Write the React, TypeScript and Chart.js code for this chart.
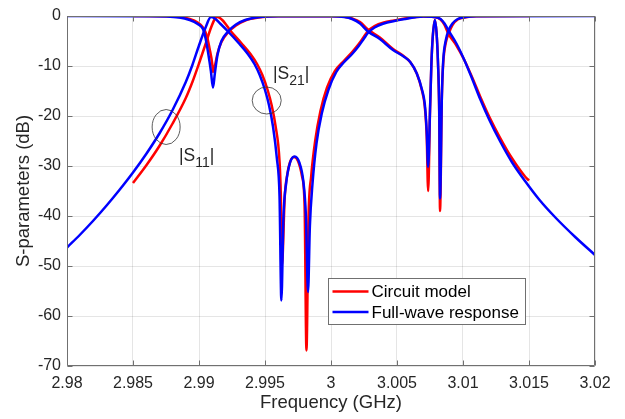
import React, { useEffect, useRef } from "react";
import { Chart, registerables } from "chart.js";

Chart.register(...registerables);

const xTicks = [2.98, 2.985, 2.99, 2.995, 3, 3.005, 3.01, 3.015, 3.02];
const yTicks = [0, -10, -20, -30, -40, -50, -60, -70];

// Full-wave response, transmission-like curve
const freqFullA = [
  2.98, 2.981, 2.982, 2.983, 2.984, 2.985, 2.986, 2.987, 2.988, 2.989, 2.9895, 2.99, 2.9905, 2.9909,
  2.9912, 2.9916, 2.9922, 2.993, 2.9937, 2.9942, 2.9946, 2.995, 2.9953, 2.9956, 2.9959, 2.9961, 2.99624,
  2.9964, 2.9966, 2.9969, 2.99725, 2.9976, 2.9979, 2.9981, 2.99826, 2.9984, 2.9986, 2.9989, 2.9993,
  2.9998, 3.0004, 3.001, 3.0016, 3.0021, 3.0025, 3.0028, 3.0033, 3.004, 3.0048, 3.0056, 3.0064, 3.007,
  3.0078, 3.0083, 3.0086, 3.0089, 3.0095, 3.0101, 3.0107, 3.0113, 3.012, 3.0128, 3.0137, 3.0147, 3.0158,
  3.017, 3.0185, 3.02,
];
const fullA = [
  -46.3, -43.7, -40.9, -37.9, -34.7, -31.3, -27.6, -23.5, -18.8, -13.2, -9.8, -5.9, -2.3, -0.2,
  -0.5, -1.5, -3.1, -5.4, -7.6, -9.6, -11.8, -14.8, -17.8, -22.0, -28.5, -36.0, -56.9,
  -40.0, -33.5, -29.3, -28.1, -29.3, -33.0, -40.0, -55.2, -42.0, -33.5, -25.5, -19.5,
  -14.8, -11.2, -9.2, -7.6, -6.0, -4.5, -3.4, -2.3, -1.5, -1.0, -0.6, -0.25, -0.1,
  -0.2, -0.6, -1.5, -2.9, -5.5, -8.8, -12.6, -16.6, -20.8, -25.0, -29.2, -33.0, -36.8,
  -40.3, -44.2, -47.8,
];

// Full-wave response, reflection-like curve
const freqFullB = [
  2.98, 2.986, 2.9885, 2.9893, 2.9899, 2.9903, 2.9905, 2.9907, 2.9909, 2.99106, 2.9912, 2.9914, 2.9917,
  2.9922, 2.9928, 2.9935, 2.9945, 2.996, 3.0, 3.001, 3.0016, 3.0022, 3.0028, 3.0037, 3.0047, 3.0055,
  3.006, 3.0065, 3.0069, 3.0071, 3.00725, 3.00736, 3.0075, 3.0076, 3.0077, 3.00787, 3.008, 3.0081,
  3.0082, 3.00826, 3.0084, 3.0085, 3.0087, 3.0089, 3.0092, 3.0096, 3.0102, 3.011, 3.02,
];
const fullB = [
  0, -0.05, -0.3, -0.8, -1.6, -2.6, -4.5, -7.5, -11.0, -14.3, -11.5, -7.8, -5.0,
  -3.1, -1.7, -0.8, -0.25, -0.05, -0.05, -0.2, -0.6, -1.5, -3.1, -4.6, -6.8, -8.1,
  -9.2, -11.5, -14.8, -17.5, -23.0, -30.2, -19.0, -10.0, -4.5, -0.8, -3.5, -9.0,
  -19.0, -36.5, -16.0, -9.0, -4.8, -2.9, -1.5, -0.6, -0.2, -0.05, 0,
];

// Circuit model, transmission-like curve
const freqCircA = [
  2.985, 2.986, 2.987, 2.988, 2.989, 2.9895, 2.99, 2.9905, 2.9909, 2.9912, 2.9914, 2.9918, 2.9924,
  2.9932, 2.9939, 2.9944, 2.9948, 2.9952, 2.9955, 2.9958, 2.9961, 2.9962, 2.99628, 2.9965, 2.9967,
  2.9969, 2.9972, 2.9975, 2.9978, 2.998, 2.99814, 2.9983, 2.9985, 2.9988, 2.9992, 2.9997, 3.0003,
  3.001, 3.0016, 3.0021, 3.0025, 3.0028, 3.0033, 3.004, 3.0048, 3.0056, 3.0064, 3.007, 3.0078, 3.0083,
  3.0086, 3.0089, 3.0095, 3.0101, 3.0107, 3.0113, 3.012, 3.0128, 3.0137, 3.0147, 3.015,
];
const circA = [
  -33.4, -29.9, -26.0, -21.5, -16.4, -13.2, -9.5, -5.6, -2.4, -0.6, -0.2, -0.9, -3.0,
  -5.4, -7.6, -9.6, -11.8, -14.8, -17.8, -22.0, -29.0, -36.0, -50.0, -36.0, -31.5,
  -29.2, -28.2, -29.0, -32.0, -38.0, -66.9, -40.0, -32.0, -25.0, -19.0, -14.3, -11.0,
  -8.9, -7.2, -5.6, -4.1, -3.0, -2.0, -1.3, -0.9, -0.5, -0.2, -0.1, -0.2, -0.7,
  -1.8, -3.6, -5.9, -8.8, -12.3, -16.1, -20.2, -24.3, -28.4, -32.1, -32.9,
];

// Circuit model, reflection-like curve
const freqCircB = [
  2.985, 2.9885, 2.9893, 2.9899, 2.9903, 2.9906, 2.9908, 2.991, 2.99106, 2.9912, 2.9914, 2.9917, 2.9922,
  2.9928, 2.9935, 2.9945, 2.996, 3.0, 3.001, 3.0016, 3.0022, 3.0028, 3.0037, 3.0047, 3.0055, 3.006,
  3.0065, 3.0069, 3.0071, 3.00725, 3.00736, 3.0075, 3.0076, 3.0077, 3.00787, 3.008, 3.0081, 3.0082,
  3.00826, 3.0084, 3.0085, 3.0087, 3.0089, 3.0092, 3.0096, 3.0102, 3.011, 3.015,
];
const circB = [
  0, -0.2, -0.6, -1.3, -2.3, -4.0, -6.5, -9.5, -11.2, -10.0, -7.5, -5.2, -3.3,
  -1.9, -0.9, -0.3, -0.05, -0.05, -0.15, -0.5, -1.2, -2.7, -4.3, -6.6, -8.0, -9.2,
  -11.5, -15.0, -18.0, -24.0, -35.0, -19.0, -10.0, -4.5, -0.8, -3.5, -9.0, -20.0,
  -39.0, -16.0, -9.5, -5.3, -3.6, -1.8, -0.7, -0.25, -0.05, 0,
];

const seriesNames = ["Circuit model", "Full-wave response"];
const seriesColors = ["#ff0000", "#0000ff"];

// annotation anchors (data coordinates)
const noteS11 = { cx: 2.98751, cy: -22.2, tx: 2.98848, ty: -28.9, sub: "11" };
const noteS21 = { cx: 2.99513, cy: -16.9, tx: 2.99561, ty: -12.5, sub: "21" };

const FONT = "'Liberation Sans', Arial, Helvetica, sans-serif";
const TEXT = "#262626";

const zip = (xs: number[], ys: number[]) => xs.map((x, i) => ({ x, y: ys[i] }));

const decorPlugin = {
  id: "decor",
  afterDraw(chart: any) {
    const { ctx, chartArea: a, scales } = chart;
    const x = scales.x;
    const y = scales.y;
    ctx.save();
    // box and inward ticks
    ctx.strokeStyle = "#707070";
    ctx.lineWidth = 1;
    const L = Math.round(a.left) + 0.5;
    const R = Math.round(a.right) - 0.5;
    const T = Math.round(a.top) + 0.5;
    const B = Math.round(a.bottom) - 0.5;
    ctx.beginPath();
    ctx.rect(L, T, R - L, B - T);
    xTicks.forEach((v) => {
      const px = Math.round(x.getPixelForValue(v)) + 0.5;
      ctx.moveTo(px, B);
      ctx.lineTo(px, B - 5);
      ctx.moveTo(px, T);
      ctx.lineTo(px, T + 5);
    });
    yTicks.forEach((v) => {
      const py = Math.round(y.getPixelForValue(v)) + 0.5;
      ctx.moveTo(L, py);
      ctx.lineTo(L + 5, py);
      ctx.moveTo(R, py);
      ctx.lineTo(R - 5, py);
    });
    ctx.stroke();

    // annotations
    const drawNote = (n: any, rx: number, ry: number) => {
      const cx = x.getPixelForValue(n.cx);
      const cy = y.getPixelForValue(n.cy);
      ctx.beginPath();
      ctx.strokeStyle = "#333333";
      ctx.lineWidth = 0.8;
      ctx.ellipse(cx, cy, rx, ry, 0, 0, Math.PI * 2);
      ctx.stroke();
      const tx = x.getPixelForValue(n.tx);
      const ty = y.getPixelForValue(n.ty);
      ctx.fillStyle = TEXT;
      ctx.textBaseline = "alphabetic";
      ctx.textAlign = "left";
      ctx.font = `17.5px ${FONT}`;
      let cur = tx;
      ctx.fillText("|S", cur, ty);
      cur += ctx.measureText("|S").width;
      ctx.font = `14px ${FONT}`;
      ctx.fillText(n.sub, cur, ty + 6);
      cur += ctx.measureText(n.sub).width;
      ctx.font = `17.5px ${FONT}`;
      ctx.fillText("|", cur, ty);
    };
    drawNote(noteS11, 14, 17.5);
    drawNote(noteS21, 14.5, 13.5);

    // legend
    const bw = 197;
    const bh = 46;
    const bx = Math.round(a.right) - 70 - bw + 0.5;
    const by = 278.5;
    ctx.fillStyle = "#ffffff";
    ctx.fillRect(bx, by, bw, bh);
    ctx.strokeStyle = "#707070";
    ctx.lineWidth = 1;
    ctx.strokeRect(bx, by, bw, bh);
    ctx.font = `17px ${FONT}`;
    ctx.textBaseline = "middle";
    seriesNames.forEach((name, i) => {
      const ly = by + 13 + i * 20.5;
      ctx.strokeStyle = seriesColors[i];
      ctx.lineWidth = 2.5;
      ctx.beginPath();
      ctx.moveTo(bx + 4, ly);
      ctx.lineTo(bx + 40, ly);
      ctx.stroke();
      ctx.fillStyle = "#000000";
      ctx.fillText(name, bx + 43, ly + 1);
    });
    ctx.restore();
  },
};

export default function App() {
  const ref = useRef<HTMLCanvasElement | null>(null);
  useEffect(() => {
    document.body.style.margin = "0";
    const canvas = ref.current;
    if (!canvas) return;
    const mk = (label: string, xs: number[], ys: number[], color: string, order: number) => ({
      label,
      data: zip(xs, ys),
      borderColor: color,
      backgroundColor: color,
      borderWidth: 2.5,
      pointRadius: 0,
      fill: false,
      cubicInterpolationMode: "monotone" as const,
      order,
    });
    const chart = new Chart(canvas, {
      type: "line",
      data: {
        datasets: [
          mk(seriesNames[0], freqCircB, circB, seriesColors[0], 2),
          mk(seriesNames[0], freqCircA, circA, seriesColors[0], 2),
          mk(seriesNames[1], freqFullB, fullB, seriesColors[1], 1),
          mk(seriesNames[1], freqFullA, fullA, seriesColors[1], 1),
        ],
      },
      options: {
        animation: false,
        responsive: false,
        devicePixelRatio: 1,
        layout: { padding: { top: 16, right: 30, left: 0, bottom: 0 } },
        plugins: { legend: { display: false }, tooltip: { enabled: false } },
        scales: {
          x: {
            type: "linear",
            min: 2.98,
            max: 3.02,
            afterBuildTicks: (s: any) => {
              s.ticks = xTicks.map((v) => ({ value: v }));
            },
            afterFit: (s: any) => {
              s.height = 53;
            },
            ticks: {
              color: TEXT,
              font: { family: FONT, size: 16 },
              padding: 8,
              maxRotation: 0,
              autoSkip: false,
              callback: (v: any) => String(parseFloat(Number(v).toFixed(3))),
            },
            grid: { color: "rgba(38,38,38,0.12)", drawTicks: false },
            border: { display: false },
            title: {
              display: true,
              text: "Frequency (GHz)",
              color: TEXT,
              font: { family: FONT, size: 18.5 },
              padding: { top: 0, bottom: 5 },
            },
          },
          y: {
            type: "linear",
            min: -70,
            max: 0,
            afterBuildTicks: (s: any) => {
              s.ticks = yTicks.map((v) => ({ value: v }));
            },
            afterFit: (s: any) => {
              s.width = 67;
            },
            ticks: {
              color: TEXT,
              font: { family: FONT, size: 16 },
              padding: 6,
              autoSkip: false,
              callback: (v: any) => String(v),
            },
            grid: { color: "rgba(38,38,38,0.12)", drawTicks: false },
            border: { display: false },
            title: {
              display: true,
              text: "S-parameters (dB)",
              color: TEXT,
              font: { family: FONT, size: 18.5 },
              padding: { top: 13, bottom: 0 },
            },
          },
        },
      },
      plugins: [decorPlugin],
    });
    return () => chart.destroy();
  }, []);
  return (
    <div style={{ width: 625, height: 419 }}>
      <canvas ref={ref} width={625} height={419} />
    </div>
  );
}
